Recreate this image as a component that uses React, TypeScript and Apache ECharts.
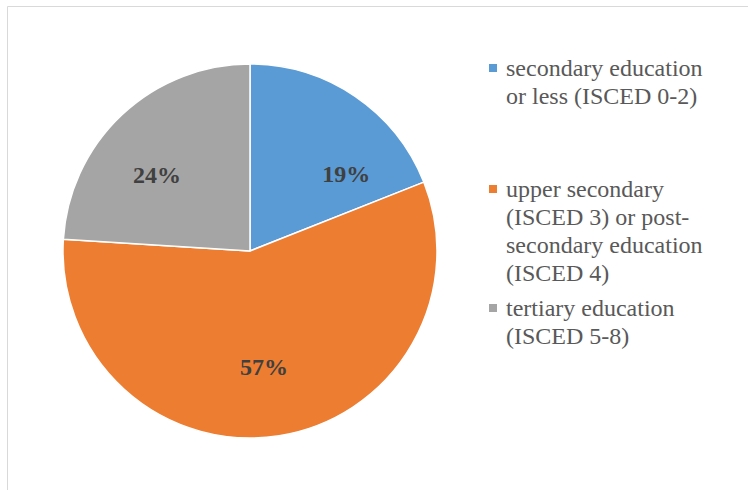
import React, { useEffect, useRef } from "react";
import * as echarts from "echarts";

const categories = [
  "secondary education or less (ISCED 0-2)",
  "upper secondary (ISCED 3) or post-secondary education (ISCED 4)",
  "tertiary education (ISCED 5-8)",
];
const legendLines = [
  ["secondary education", "or less (ISCED 0-2)"],
  ["upper secondary", "(ISCED 3) or post-", "secondary education", "(ISCED 4)"],
  ["tertiary education", "(ISCED 5-8)"],
];
const shares = [19, 57, 24];
const colors = ["#5B9BD5", "#ED7D31", "#A5A5A5"];

// label nudges (style), relative to the slice's inner label position
const labelOffsets = [
  [42, 3],
  [-1, 21],
  [-27, -6],
];
const legendTops = [54, 175, 294];
const LINE_H = 28;
const ICON_W = 12;
const FONT = "Liberation Serif, Times New Roman, DejaVu Serif, serif";

// square marker aligned with the first text line of a multi-line legend item
function markerIcon(lines: number) {
  const h = lines * LINE_H;
  const c = LINE_H / 2;
  return `path://M0,0 M${ICON_W},${h} M0,${c - 4}h8v8h-8z`;
}

export default function App() {
  const ref = useRef<HTMLDivElement>(null);

  useEffect(() => {
    if (!ref.current) return;
    const chart = echarts.init(ref.current, undefined, { renderer: "svg" });

    const legends = categories.map((name, i) => ({
      data: [name],
      orient: "vertical",
      left: 489,
      top: legendTops[i],
      padding: 0,
      icon: markerIcon(legendLines[i].length),
      itemWidth: ICON_W,
      itemHeight: legendLines[i].length * LINE_H,
      selectedMode: false,
      itemStyle: { borderWidth: 0 },
      formatter: () => legendLines[i].join("\n"),
      textStyle: {
        fontFamily: FONT,
        fontSize: 24,
        lineHeight: LINE_H,
        color: "#595959",
      },
    }));

    chart.setOption({
      animation: false,
      backgroundColor: "#ffffff",
      color: colors,
      textStyle: { fontFamily: FONT },
      graphic: [
        {
          type: "rect",
          shape: { x: 7.5, y: 6.5, width: 800, height: 520 },
          style: { fill: "none", stroke: "#d9d9d9", lineWidth: 1 },
          silent: true,
        },
      ],
      legend: legends,
      series: [
        {
          type: "pie",
          center: [250, 251],
          radius: [0, 187],
          startAngle: 90,
          clockwise: true,
          avoidLabelOverlap: false,
          itemStyle: { borderColor: "#ffffff", borderWidth: 1.5 },
          label: {
            show: true,
            position: "inside",
            formatter: "{c}%",
            fontFamily: FONT,
            fontSize: 24,
            fontWeight: "bold",
            color: "#404040",
          },
          labelLine: { show: false },
          emphasis: { disabled: true },
          data: categories.map((name, i) => ({
            name,
            value: shares[i],
            itemStyle: { color: colors[i] },
            label: { offset: labelOffsets[i] },
          })),
        },
      ],
    });

    return () => chart.dispose();
  }, []);

  return (
    <div
      ref={ref}
      style={{ position: "absolute", left: 0, top: 0, width: 748, height: 490 }}
    />
  );
}
